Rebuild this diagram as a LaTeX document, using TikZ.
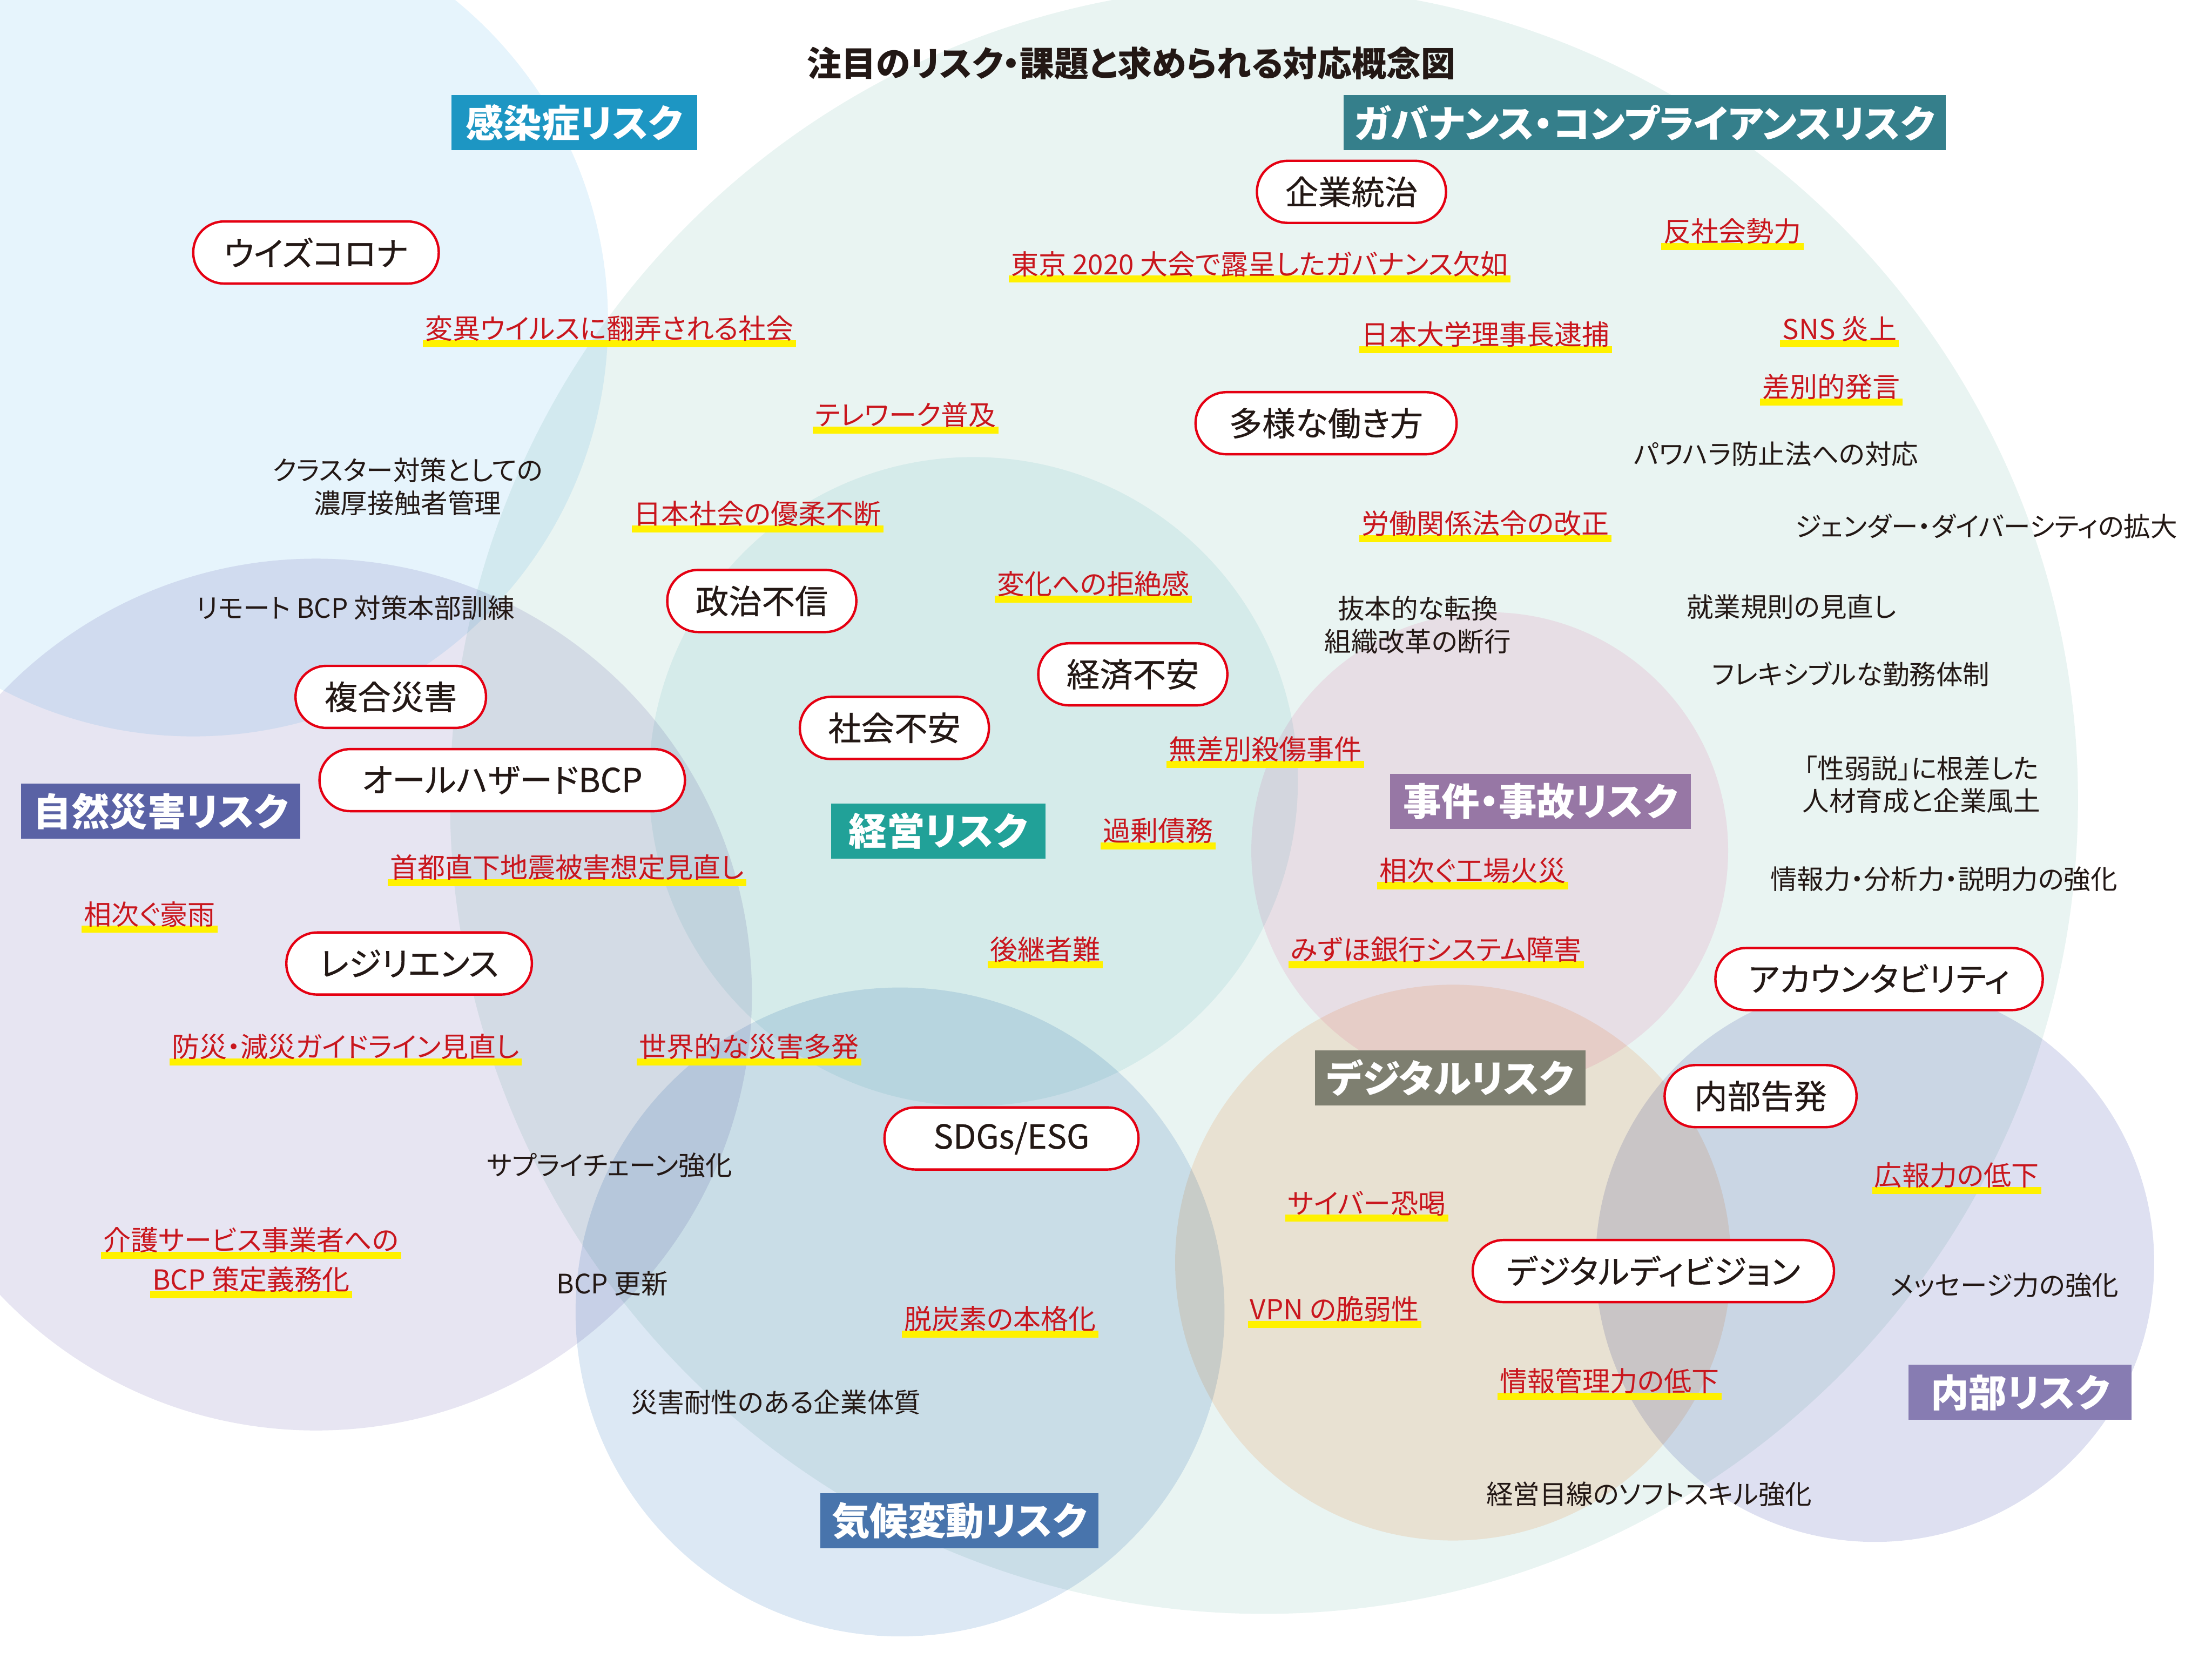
\documentclass[tikz,border=0pt]{standalone}
\usepackage{fontspec}
\setmainfont{Noto Sans CJK JP}[RawFeature=+palt]
\newfontfamily\pillfont{Noto Sans CJK JP}[RawFeature=+palt,FakeBold=0.6]
\usepackage{tikz}

% circle fills (multiplied)
\definecolor{infbg}{HTML}{E6F4FC}
\definecolor{govbg}{HTML}{E9F4F2}
\definecolor{natbg}{HTML}{E7E5F2}
\definecolor{mgmtbg}{HTML}{EAF6F7}
\definecolor{incbg}{HTML}{FDE9F2}
\definecolor{digbg}{HTML}{FEECDE}
\definecolor{intbg}{HTML}{DEE0F1}
\definecolor{climbg}{HTML}{DCE8F4}
% label boxes
\definecolor{infcol}{HTML}{1D96C3}
\definecolor{govcol}{HTML}{357F8B}
\definecolor{natcol}{HTML}{5A62A5}
\definecolor{mgmtcol}{HTML}{21A198}
\definecolor{inccol}{HTML}{9777A5}
\definecolor{digcol}{HTML}{7E7F70}
\definecolor{intcol}{HTML}{877CB2}
\definecolor{climcol}{HTML}{4874AC}
\definecolor{notered}{HTML}{C9161D}
\definecolor{pillred}{HTML}{E50012}
\definecolor{hlyellow}{HTML}{FFF100}
\definecolor{inkblack}{HTML}{231815}

\pgfdeclarelayer{circles}
\pgfdeclarelayer{bars}
\pgfsetlayers{circles,bars,main}

\begin{document}
\begin{tikzpicture}[x=0.025cm,y=-0.025cm]
    \useasboundingbox (0,0) rectangle (1568,1176);

    \begin{pgfonlayer}{circles}
        \begin{scope}[blend mode=multiply]
            \clip (0,0) rectangle (1568,1176);
            \fill[infbg]  (137,228)  circle[radius=294];
            \fill[govbg]  (896,567)  circle[radius=577];
            \fill[natbg]  (224,705)  circle[radius=309];
            \fill[mgmtbg] (690,554)  circle[radius=230];
            \fill[incbg]  (1056,603) circle[radius=169];
            \fill[digbg]  (1030,895) circle[radius=197];
            \fill[intbg]  (1329,895) circle[radius=198];
            \fill[climbg] (638,930)  circle[radius=230];
        \end{scope}
    \end{pgfonlayer}

    \node(title)[text=inkblack,font=\fontsize{17.4}{20}\selectfont\bfseries] at (802,45) {注目のリスク・課題と求められる対応概念図};

    \begin{scope}
        [
            every node/.style={
                text=white, inner xsep=0.2cm, minimum height=0.975cm,
                font=\fontsize{19.2}{22}\selectfont\bfseries }
        ]
        \node(infection)[fill=infcol,minimum width=4.35cm] at (407,87) {感染症リスク};
        \node(governance)[fill=govcol,minimum width=10.5cm] at (1166,87) {ガバナンス・コンプライアンスリスク};
        \node(natural)[fill=natcol,minimum width=4.95cm] at (114,575) {自然災害リスク};
        \node(management)[fill=mgmtcol,minimum width=3.8cm] at (665,589) {経営リスク};
        \node(incident)[fill=inccol,minimum width=5.325cm] at (1092,568) {事件・事故リスク};
        \node(digital)[fill=digcol,minimum width=4.8cm] at (1028,764) {デジタルリスク};
        \node(internal)[fill=intcol,minimum width=3.95cm] at (1432,987) {内部リスク};
        \node(climate)[fill=climcol,minimum width=4.925cm] at (680,1078) {気候変動リスク};
    \end{scope}

    \begin{scope}
        [
            every node/.style={
                rectangle, rounded corners=0.545cm, draw=pillred, line width=1.2pt,
                fill=white, text=inkblack, minimum height=1.1cm, inner xsep=0.3cm,
                font=\pillfont\fontsize{16.7}{20}\selectfont }
        ]
        \node(withcorona)[minimum width=4.35cm] at (224,179) {ウイズコロナ};
        \node(governing)[minimum width=3.35cm] at (958,136) {企業統治};
        \node(diverse)[minimum width=4.625cm] at (940,300) {多様な働き方};
        \node(politics)[minimum width=3.35cm] at (540,426) {政治不信};
        \node(economy)[minimum width=3.35cm] at (803,478) {経済不安};
        \node(society)[minimum width=3.35cm] at (634,516) {社会不安};
        \node(compound)[minimum width=3.375cm] at (277,494) {複合災害};
        \node(allhazard)[minimum width=6.475cm] at (356,553) {オールハザードBCP};
        \node(resilience)[minimum width=4.35cm] at (290,683) {レジリエンス};
        \node(sdgs)[minimum width=4.5cm] at (717,807) {SDGs/ESG};
        \node(accountability)[minimum width=5.8cm] at (1332,694) {アカウンタビリティ};
        \node(whistle)[minimum width=3.4cm] at (1248,777) {内部告発};
        \node(divide)[minimum width=6.4cm] at (1172,901) {デジタルディビジョン};
    \end{scope}

    \begin{scope}
        [
            every node/.style={
                text=notered, inner xsep=1pt, inner ysep=0.1cm,
                font=\fontsize{13.9}{16}\selectfont }
        ]
        \node(variant) at (432,233) {変異ウイルスに翻弄される社会};
        \node(tokyo) at (893,187) {東京 2020 大会で露呈したガバナンス欠如};
        \node(antisocial) at (1228,164) {反社会勢力};
        \node(nichidai) at (1053,237) {日本大学理事長逮捕};
        \node(sns) at (1304,233) {SNS 炎上};
        \node(discrim) at (1298,274) {差別的発言};
        \node(telework) at (642,294) {テレワーク普及};
        \node(indecisive) at (537,364) {日本社会の優柔不断};
        \node(laborlaw) at (1053,371) {労働関係法令の改正};
        \node(change) at (775,414) {変化への拒絶感};
        \node(attack) at (897,531) {無差別殺傷事件};
        \node(debt) at (821,589) {過剰債務};
        \node(fire) at (1044,617) {相次ぐ工場火災};
        \node(mizuho) at (1018,673) {みずほ銀行システム障害};
        \node(successor) at (741,673) {後継者難};
        \node(quake) at (402,615) {首都直下地震被害想定見直し};
        \node(rain) at (106,648) {相次ぐ豪雨};
        \node(guideline) at (245,742) {防災・減災ガイドライン見直し};
        \node(worldwide) at (531,742) {世界的な災害多発};
        \node(care1) at (178,879) {介護サービス事業者への};
        \node(care2) at (178,907) {BCP 策定義務化};
        \node(decarbon) at (709,935) {脱炭素の本格化};
        \node(extortion) at (969,853) {サイバー恐喝};
        \node(vpn) at (946,928) {VPN の脆弱性};
        \node(infomgmt) at (1141,979) {情報管理力の低下};
        \node(pr) at (1387,833) {広報力の低下};
    \end{scope}

    \begin{pgfonlayer}{bars}
        \foreach \n in {variant,tokyo,antisocial,nichidai,sns,discrim,telework,
            indecisive,laborlaw,change,attack,debt,fire,mizuho,successor,quake,
            rain,guideline,worldwide,care1,care2,decarbon,extortion,vpn,infomgmt,pr}
            \fill[hlyellow] (\n.south west) rectangle ([yshift=0.125cm]\n.south east);
    \end{pgfonlayer}

    \begin{scope}
        [
            every node/.style={
                text=inkblack, align=center,
                font=\fontsize{13.5}{16.4}\selectfont }
        ]
        \node(cluster) at (289,345) {クラスター対策としての\\濃厚接触者管理};
        \node(remote) at (252,431) {リモート BCP 対策本部訓練};
        \node(drastic) at (1005,443) {抜本的な転換\\組織改革の断行};
        \node(powerharass) at (1259,322) {パワハラ防止法への対応};
        \node(gender) at (1408,373) {ジェンダー・ダイバーシティの拡大};
        \node(workrules) at (1270,430) {就業規則の見直し};
        \node(flexible) at (1312,478) {フレキシブルな勤務体制};
        \node(weakness) at (1362,556) {「性弱説」に根差した\\人材育成と企業風土};
        \node(infopower) at (1378,623) {情報力・分析力・説明力の強化};
        \node(supply) at (432,826) {サプライチェーン強化};
        \node(bcpupdate) at (434,910) {BCP 更新};
        \node(resistant) at (550,994) {災害耐性のある企業体質};
        \node(message) at (1421,911) {メッセージ力の強化};
        \node(softskill) at (1169,1059) {経営目線のソフトスキル強化};
    \end{scope}
\end{tikzpicture}
\end{document}
